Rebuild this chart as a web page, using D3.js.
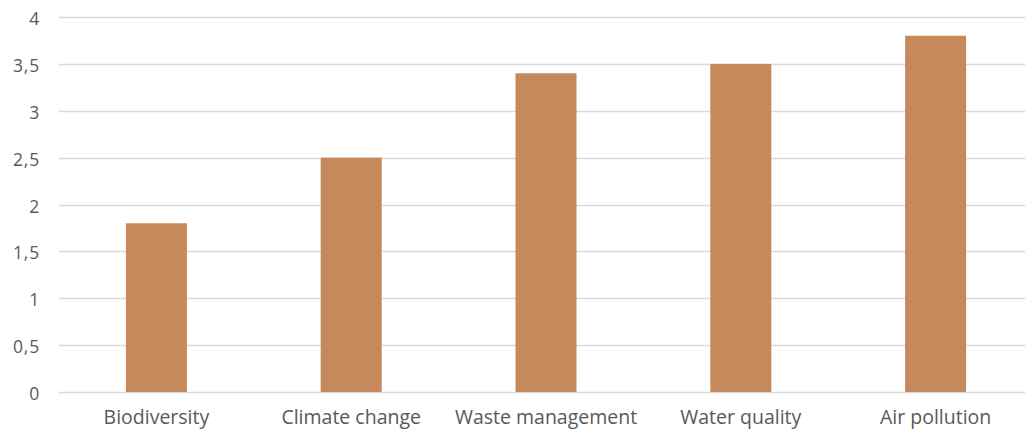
<!DOCTYPE html>
<html><head><meta charset="utf-8">
<script src="https://cdn.jsdelivr.net/npm/d3@7"></script>
<style>body{margin:0;background:#fff;}svg{display:block;}</style>
</head><body>
<svg id="c" width="1025" height="431"></svg>
<script>
const categories = ["Biodiversity","Climate change","Waste management","Water quality","Air pollution"];
const values = [1.8, 2.5, 3.4, 3.5, 3.8];
const yTicks = [0,0.5,1,1.5,2,2.5,3,3.5,4];

(function(){
const svg = d3.select("#c");
const mL = 59, mR = 1033, mT = 17, mB = 392;
const x = d3.scaleBand().domain(categories).range([mL, mR]).paddingInner(0).paddingOuter(0);
const y = d3.scaleLinear().domain([0,4]).range([mB, mT]);
const fmt = d => String(d).replace(".", ",");
const font = "'Open Sans', sans-serif";

const grid = svg.append("g");
grid.selectAll("line").data(yTicks).join("line")
  .attr("x1", mL).attr("x2", mR)
  .attr("y1", d => Math.round(y(d)) + 0.5).attr("y2", d => Math.round(y(d)) + 0.5)
  .attr("stroke", "#d9d9d9").attr("stroke-width", 1.3);

const yAxis = d3.axisLeft(y).tickValues(yTicks).tickFormat(fmt).tickSize(0).tickPadding(0);
const ya = svg.append("g").attr("transform", `translate(${mL-19},2)`).call(yAxis);
ya.select(".domain").remove();
ya.selectAll("text").attr("font-family", font).attr("font-size", 17.5).attr("fill", "#595959").attr("letter-spacing", 0.8);

const bw = 61;
svg.append("g").selectAll("rect").data(values).join("rect")
  .attr("x", (d,i) => x(categories[i]) + x.bandwidth()/2 - bw/2)
  .attr("width", bw)
  .attr("y", d => y(d))
  .attr("height", d => mB - y(d))
  .attr("fill", "#c5895b");

const xAxis = d3.axisBottom(x).tickSize(0).tickPadding(0);
const xa = svg.append("g").attr("transform", `translate(0,424)`).call(xAxis);
xa.select(".domain").remove();
xa.selectAll("text").attr("font-family", font).attr("font-size", 19.5).attr("fill", "#595959").attr("dy", 0);
})();
</script>
</body></html>
